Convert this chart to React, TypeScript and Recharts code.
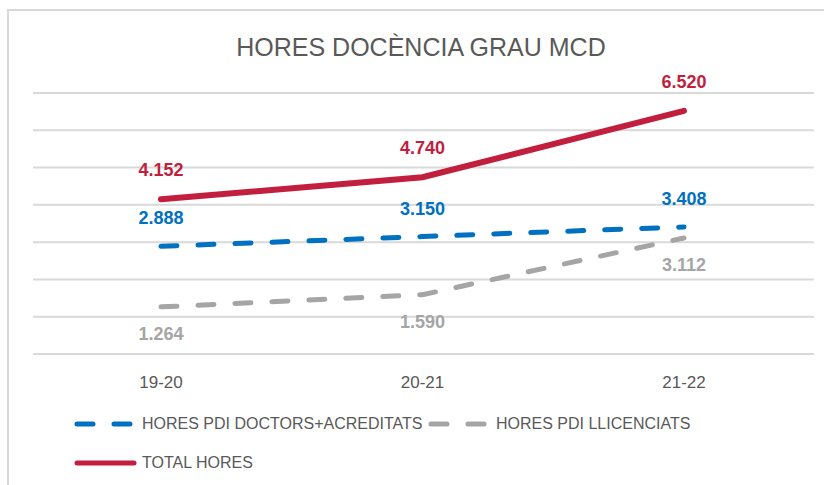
import React from "react";
import { LineChart, Line, XAxis, YAxis, CartesianGrid, LabelList } from "recharts";

const years = ["19-20", "20-21", "21-22"];
const doctors = [2888, 3150, 3408];
const llicenciats = [1264, 1590, 3112];
const total = [4152, 4740, 6520];
const yTicks = [0, 1000, 2000, 3000, 4000, 5000, 6000, 7000];

const data = years.map((year, i) => ({
    year,
    doctors: doctors[i],
    llicenciats: llicenciats[i],
    total: total[i],
}));

const FONT = "'Liberation Sans', Arial, sans-serif";
const BLUE = "#0070C0";
const GRAY = "#A5A5A5";
const RED = "#C21E3D";
const TEXT = "#595959";
const GRID = "#D9D9D9";

const fmt = (v: number) => String(v).replace(/\B(?=(\d{3})+(?!\d))/g, ".");

const makeLabel = (color: string, dy: number) => (props: any) => {
    const { x, y, value } = props;
    return (
        <text
            x={x}
            y={y + dy}
            fill={color}
            fontSize={18}
            fontWeight="bold"
            fontFamily={FONT}
            textAnchor="middle"
            dominantBaseline="central"
        >
            {fmt(value)}
        </text>
    );
};

const legendItems = [
    { label: "HORES PDI DOCTORS+ACREDITATS", color: BLUE, dash: "16 21", left: 72, top: 414 },
    { label: "HORES PDI LLICENCIATS", color: GRAY, dash: "16 21", left: 426, top: 414 },
    { label: "TOTAL HORES", color: RED, dash: undefined, left: 72, top: 453 },
];

function ChartLegend() {
    return (
        <>
            {legendItems.map((item) => (
                <div
                    key={item.label}
                    style={{
                        position: "absolute",
                        left: item.left,
                        top: item.top,
                        display: "flex",
                        alignItems: "center",
                        height: 20,
                    }}
                >
                    <svg width={66} height={20}>
                        <line
                            x1={5}
                            x2={62}
                            y1={10}
                            y2={10}
                            stroke={item.color}
                            strokeWidth={5}
                            strokeLinecap="round"
                            strokeDasharray={item.dash}
                        />
                    </svg>
                    <span style={{ fontFamily: FONT, fontSize: 16, color: TEXT, marginLeft: 4, whiteSpace: "nowrap" }}>
                        {item.label}
                    </span>
                </div>
            ))}
        </>
    );
}

export default function App() {
    return (
        <div style={{ position: "absolute", left: 0, top: 0, width: 824, height: 485, background: "#fff" }}>
            <div
                style={{
                    position: "absolute",
                    left: 7,
                    top: 9,
                    width: 817,
                    height: 476,
                    borderTop: `2px solid ${GRID}`,
                    borderLeft: `2px solid ${GRID}`,
                }}
            />
            <div
                style={{
                    position: "absolute",
                    left: 0,
                    top: 33,
                    width: 842,
                    textAlign: "center",
                    fontFamily: FONT,
                    fontSize: 25,
                    color: TEXT,
                }}
            >
                HORES DOCÈNCIA GRAU MCD
            </div>
            <LineChart
                width={824}
                height={485}
                data={data}
                margin={{ top: 93, right: 10, bottom: 91, left: 33 }}
                style={{ position: "absolute", left: 0, top: 0 }}
            >
                <CartesianGrid vertical={false} stroke={GRID} strokeWidth={2} />
                <YAxis hide domain={[0, 7000]} ticks={yTicks} width={0} />
                <XAxis
                    dataKey="year"
                    axisLine={{ stroke: GRID, strokeWidth: 2 }}
                    tickLine={false}
                    padding={{ left: 128, right: 130 }}
                    tick={{ fill: TEXT, fontSize: 17, fontFamily: FONT }}
                    dy={14}
                    height={40}
                />
                <Line
                    dataKey="doctors"
                    stroke={BLUE}
                    strokeWidth={5}
                    strokeDasharray="16 21"
                    strokeLinecap="round"
                    dot={false}
                    isAnimationActive={false}
                >
                    <LabelList dataKey="doctors" content={makeLabel(BLUE, -28)} />
                </Line>
                <Line
                    dataKey="llicenciats"
                    stroke={GRAY}
                    strokeWidth={5}
                    strokeDasharray="16 21"
                    strokeLinecap="round"
                    dot={false}
                    isAnimationActive={false}
                >
                    <LabelList dataKey="llicenciats" content={makeLabel(GRAY, 27)} />
                </Line>
                <Line
                    dataKey="total"
                    stroke={RED}
                    strokeWidth={6}
                    strokeLinecap="round"
                    dot={false}
                    isAnimationActive={false}
                >
                    <LabelList dataKey="total" content={makeLabel(RED, -29)} />
                </Line>
            </LineChart>
            <ChartLegend />
        </div>
    );
}
